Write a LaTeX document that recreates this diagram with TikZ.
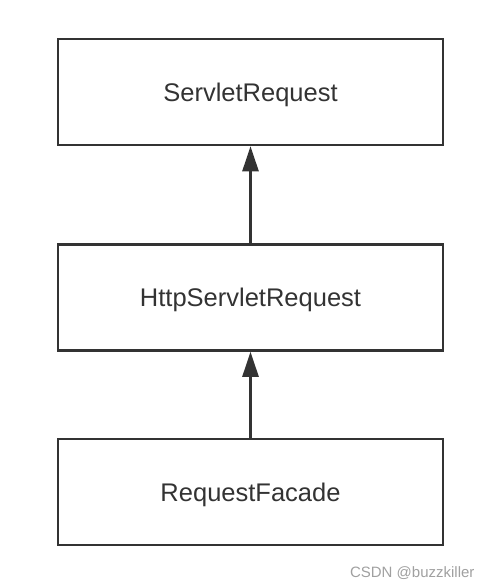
\documentclass[tikz,border=0pt]{standalone}
\usepackage{fontspec}
\setmainfont{Liberation Sans}
\usetikzlibrary{arrows.meta}
\definecolor{ink}{HTML}{333333}
\definecolor{wm}{HTML}{A0A0A0}
\begin{document}
\begin{tikzpicture}[x=1pt,y=-1pt,
  box/.style={draw=ink,line width=2.5pt,minimum width=385pt,minimum height=106pt,inner sep=0pt,
    text height=18.3pt,text depth=0pt,
    text=ink,font=\fontsize{25.5}{30}\selectfont},
  conn/.style={draw=ink,line width=2.5pt,-{Triangle[length=25pt,width=16pt]}}]
\useasboundingbox (0,0) rectangle (494,588);
\node[box] (sr) at (250.5,92) {ServletRequest};
\node[box] (hsr) at (250.5,297.5) {HttpServletRequest};
\node[box] (rf) at (250.5,492) {RequestFacade};
\draw[conn] (hsr.north) -- (sr.south);
\draw[conn] (rf.north) -- (hsr.south);
\node[text=wm,font=\fontsize{15}{18}\selectfont,anchor=east] (wmk) at (478,573) {CSDN @buzzkiller};
\end{tikzpicture}
\end{document}
